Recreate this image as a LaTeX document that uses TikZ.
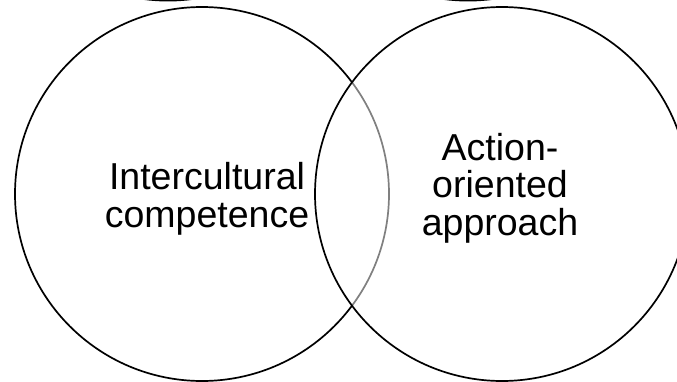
\documentclass[tikz,border=0pt]{standalone}
\usepackage{fontspec}
\setmainfont{Liberation Sans}
\usepackage{tikz}
\usetikzlibrary{positioning}

\tikzset{
  venn/.style={circle, draw=black, line width=1.7pt, inner sep=0pt, minimum size=374pt},
  vlabel/.style={align=center, inner sep=0pt, font=\fontsize{37.5}{37.5}\selectfont}
}

\begin{document}
\begin{tikzpicture}[x=1pt,y=-1pt]
	\useasboundingbox (0,0) rectangle (677,381);
	\clip (0,0) rectangle (677,381);
	% circles cut off above the frame
	\node[venn] (upleft) at (168,-186.4) {};
	\node[venn] (upright) at (468,-186.4) {};
	% the two sets
	\node[venn] (ic) at (202,194) {};
	\node[venn, fill=white, fill opacity=0.5] (aoa) at (502,194) {};
	\node[vlabel] (ictext) at ([xshift=5pt,yshift=-5pt]ic.center) {Intercultural\\competence};
	\node[vlabel] (aoatext) at ([xshift=-2pt,yshift=6pt]aoa.center) {Action-\\oriented\\approach};
\end{tikzpicture}
\end{document}
